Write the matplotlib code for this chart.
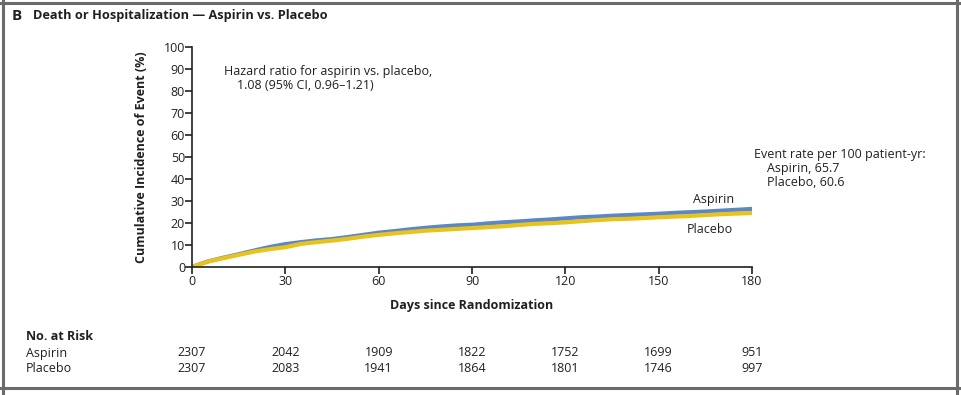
import matplotlib.pyplot as plt
from matplotlib.lines import Line2D
from matplotlib import transforms

plt.rcParams["font.family"] = ["Open Sans", "DejaVu Sans"]

# cumulative incidence (%) every 5 days
days = [0, 5, 10, 15, 20, 25, 30, 35, 40, 45, 50, 55, 60, 65, 70, 75, 80, 85, 90,
        95, 100, 105, 110, 115, 120, 125, 130, 135, 140, 145, 150, 155, 160, 165, 170, 175, 180]
aspirin = [0, 2.5, 4.2, 5.8, 7.5, 9.1, 10.4, 11.3, 12.1, 12.7, 13.6, 14.6, 15.6, 16.3, 17.1, 17.8, 18.4, 18.9, 19.2,
           19.8, 20.3, 20.7, 21.2, 21.6, 22.1, 22.6, 22.9, 23.3, 23.6, 23.9, 24.2, 24.6, 24.9, 25.2, 25.6, 26.0, 26.4]
placebo = [0, 2.4, 4.0, 5.5, 7.0, 8.1, 9.0, 10.5, 11.3, 12.0, 12.8, 13.8, 14.6, 15.3, 15.9, 16.5, 16.9, 17.3, 17.7,
           18.1, 18.5, 19.1, 19.6, 19.9, 20.3, 20.8, 21.3, 21.7, 21.9, 22.2, 22.6, 22.9, 23.2, 23.6, 24.0, 24.3, 24.5]

risk_days = [0, 30, 60, 90, 120, 150, 180]
risk_aspirin = [2307, 2042, 1909, 1822, 1752, 1699, 951]
risk_placebo = [2307, 2083, 1941, 1864, 1801, 1746, 997]

blue = "#5b87c6"
yellow = "#e8c31c"
txt = "#231f20"
fs = 9

W, H = 961, 395
fig = plt.figure(figsize=(W / 100, H / 100), dpi=100)
ax = fig.add_axes([192 / W, 1 - 267 / H, 560 / W, 220 / H])

ax.plot(days, aspirin, color=blue, lw=3, solid_capstyle="butt")
ax.plot(days, placebo, color=yellow, lw=3, solid_capstyle="butt")

ax.set_xlim(0, 180)
ax.set_ylim(0, 100)
ax.set_xticks(risk_days)
ax.set_yticks(range(0, 101, 10))
ax.spines["top"].set_visible(False)
ax.spines["right"].set_visible(False)
for s in ("left", "bottom"):
    ax.spines[s].set_color(txt)
    ax.spines[s].set_linewidth(1.2)
ax.tick_params(axis="both", colors=txt, labelsize=fs, length=5, width=1.2, pad=1)
ax.tick_params(axis="y", pad=0)
ax.patch.set_alpha(0)

ax.set_xlabel("Days since Randomization", fontsize=fs, fontweight="bold", color=txt, labelpad=8)
ax.set_ylabel("Cumulative Incidence of Event (%)", fontsize=fs, fontweight="bold", color=txt, labelpad=11)

ax.text(10.3, 92, "Hazard ratio for aspirin vs. placebo,\n    1.08 (95% CI, 0.96\u20131.21)",
        fontsize=fs, color=txt, va="top", ha="left", linespacing=1.1)
ax.text(180.8, 54, "Event rate per 100 patient-yr:\n    Aspirin, 65.7\n    Placebo, 60.6",
        fontsize=fs, color=txt, va="top", ha="left", linespacing=1.1, clip_on=False)
ax.text(167.5, 30.5, "Aspirin", fontsize=fs, color=txt, ha="center", va="center")
ax.text(166.5, 17, "Placebo", fontsize=fs, color=txt, ha="center", va="center")

fig.text(12 / W, 1 - 16 / H, "B", fontsize=11, fontweight="bold", color=txt, va="center")
fig.text(33 / W, 1 - 16 / H, "Death or Hospitalization \u2014 Aspirin vs. Placebo",
         fontsize=9.2, fontweight="bold", color=txt, va="center")

# number at risk table
tr = transforms.blended_transform_factory(ax.transData, fig.transFigure)
fig.text(26 / W, 1 - 336 / H, "No. at Risk", fontsize=fs, fontweight="bold", color=txt, va="center")
fig.text(26 / W, 1 - 353 / H, "Aspirin", fontsize=fs, color=txt, va="center")
fig.text(26 / W, 1 - 369 / H, "Placebo", fontsize=fs, color=txt, va="center")
for d, a, p in zip(risk_days, risk_aspirin, risk_placebo):
    fig.text(d, 1 - 353 / H, str(a), transform=tr, fontsize=fs, color=txt, ha="center", va="center")
    fig.text(d, 1 - 369 / H, str(p), transform=tr, fontsize=fs, color=txt, ha="center", va="center")

# panel frame
frame = "#6b6b6b"
fig.add_artist(Line2D([2.5 / W, 2.5 / W], [0, 1], color=frame, lw=2.2, transform=fig.transFigure))
fig.add_artist(Line2D([956.5 / W, 956.5 / W], [0, 1], color=frame, lw=2.2, transform=fig.transFigure))
fig.add_artist(Line2D([0, 1], [1 - 2.5 / H, 1 - 2.5 / H], color=frame, lw=2.2, transform=fig.transFigure))
fig.add_artist(Line2D([0, 1], [1 - 388 / H, 1 - 388 / H], color=frame, lw=2.2, transform=fig.transFigure))

fig.savefig("out.png", dpi=100)
